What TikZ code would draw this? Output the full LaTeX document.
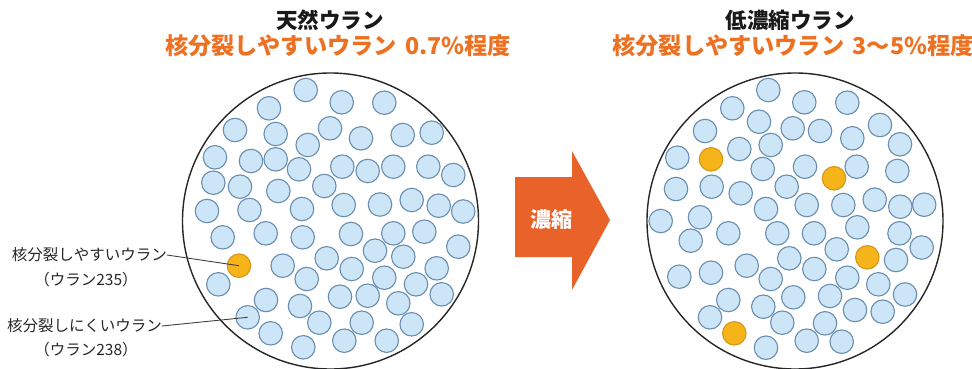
\documentclass[tikz,border=0pt]{standalone}
\usepackage{fontspec}
\newfontfamily\jp{Noto Sans CJK JP}
\definecolor{ttlorange}{HTML}{ED7123}
\definecolor{arroworange}{HTML}{E9622A}
\definecolor{ufill}{HTML}{CDE6F7}
\definecolor{uline}{HTML}{6A8DB0}
\definecolor{ofill}{HTML}{F5B419}
\definecolor{oline}{HTML}{D8961A}
\tikzset{
  ubl/.style={circle,draw=uline,fill=ufill,line width=1.1pt,minimum size=23.5pt,inner sep=0pt},
  uor/.style={circle,draw=oline,fill=ofill,line width=1.1pt,minimum size=23.5pt,inner sep=0pt},
  big/.style={circle,draw=black!85,line width=1.4pt,minimum size=296pt,inner sep=0pt},
  ttl/.style={font=\jp\bfseries\fontsize{21.5}{24}\selectfont,text=black!90,inner sep=0pt},
  sub/.style={font=\jp\bfseries\fontsize{23.2}{26}\selectfont,text=ttlorange,inner sep=0pt},
  lbl/.style={font=\jp\fontsize{15.5}{18}\selectfont,text=black!85,inner sep=0pt},
  leader/.style={draw=black!75,line width=0.9pt}
}
\begin{document}
\begin{tikzpicture}[x=1pt,y=-1pt]
\useasboundingbox (0,0) rectangle (972,369);
% titles
\node[ttl] (t1) at (330,20) {天然ウラン};
\node[sub] (s1) at (338,46) {核分裂しやすいウラン\hspace{3pt} 0.7\%程度};
\node[ttl] (t2) at (790,20) {低濃縮ウラン};
\node[sub] (s2) at (793,46) {核分裂しやすいウラン\hspace{3pt} 3～5\%程度};
% big circles
\node[big] (B1) at (330.5,221) {};
\node[big] (B2) at (795,221) {};
% left small circles
\foreach \p [count=\i] in {
(305.7,90),(341.7,102.3),(384.3,102.7),(269,108.3),(235,130),(275.7,134),(330,128.3),(361,138.3),(307.7,145),(402.7,135),(431.7,132.7),
(215,157.3),(251,161),(275.7,159.3),(299,169.3),(342.3,166.7),(367.7,171),(393.3,166.7),(428.3,166.7),(453.3,175),
(213.3,182.7),(240,186.7),(278.3,191),(324.3,186),
(207,211),(249.5,210),(302,209),(343.7,205),(380,204.5),(411.7,200),(438.7,205.7),(463.2,211.5),
(222.7,237.3),(265.7,233.3),(302.7,237.3),(351,234),(393.3,233.3),(424.3,231.7),(458.3,246.7),
(282.7,265.7),(326.7,258.3),(375,250.7),(403.3,256.7),(351.7,269),(306.7,279),(384.3,277.7),(416,284.3),(436.7,268.3),
(218.3,284.3),(266,300),(300,306),(340,296.7),(367.7,295.7),(398.3,303.3),(441.7,294.3),
(319.3,322.7),(361.7,322.7),(411.7,324.3),(270.7,333.3),(344.3,340.7),(386.7,340.7),(303.3,347.3)}
  \node[ubl] (L\i) at \p {};
\node[uor] (LU235) at (239,265.7) {};
\node[ubl] (LU238) at (247.7,317.3) {};
% right small circles
\foreach \p [count=\i] in {
(768.3,90),(804.3,102.3),(847.3,102.7),(732.3,108.3),(705,131),(759,121.7),(792.7,128.3),(820,131),(880,125),(852.3,138.3),
(739.3,149),(770.7,145),(900,144.3),(677.3,157.7),(762.7,169),(805,166.7),(856.7,166.7),(897.3,171),
(676,189),(711.7,186.7),(740.7,193.3),(786.7,186.7),
(660.7,221),(700,217.3),(766,209),(806.7,205),(843.3,205),(874.7,199.7),(900.3,206.7),(924.2,204.7),
(690.7,240.7),(728.3,233.3),(777.3,233.3),(814,233.3),(857.3,227.3),(899.5,233.3),(921.7,247.5),(836.7,249.3),(896,260),
(789.3,258.3),(746.7,265.7),(814.3,269),(679.3,276.7),(711,272.7),(770.7,279),(847.3,277.7),(878.3,284.3),(905,294.5),
(728.3,300),(763.3,306.7),(793.3,297.3),(830,296),(855,310),(882.7,311.7),(710,317.3),(782.3,322.7),(825,323.3),
(806.7,340.7),(841.7,341.7),(766,347.7)}
  \node[ubl] (R\i) at \p {};
\foreach \p [count=\i] in {(711,159.3),(834,178.3),(867.3,257.3),(734.3,333.3)}
  \node[uor] (RO\i) at \p {};
% arrow
\path[fill=arroworange] (515,177) -- (572,177) -- (572,151) -- (610,220) -- (572,290) -- (572,257) -- (515,257) -- cycle;
\node[font=\jp\bfseries\fontsize{21}{24}\selectfont,text=white,inner sep=0pt] (arrtxt) at (551,219) {濃縮};
% labels
\node[lbl,anchor=east] (lab1) at (167,255) {核分裂しやすいウラン};
\node[lbl] (lab1b) at (86,280) {（ウラン235）};
\node[lbl,anchor=east] (lab2) at (162,326) {核分裂しにくいウラン};
\node[lbl] (lab2b) at (86,350) {（ウラン238）};
\draw[leader] (lab1.east) -- (LU235.center);
\draw[leader] (lab2.east) -- (LU238.center);
\end{tikzpicture}
\end{document}
